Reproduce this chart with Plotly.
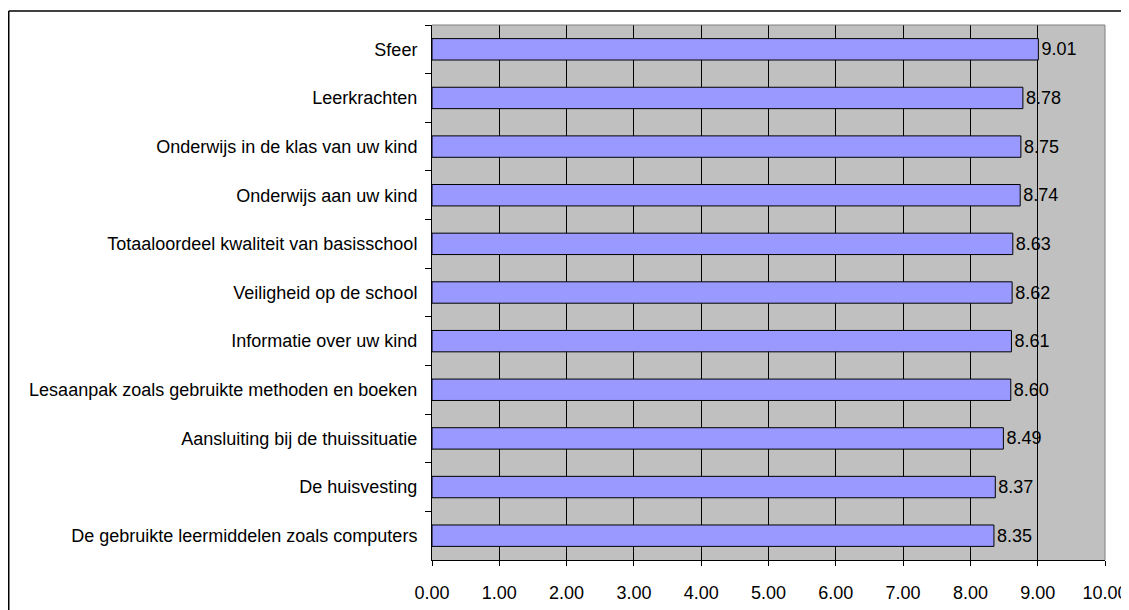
import plotly.graph_objects as go

categories = [
    "Sfeer",
    "Leerkrachten",
    "Onderwijs in de klas van uw kind",
    "Onderwijs aan uw kind",
    "Totaaloordeel kwaliteit van basisschool",
    "Veiligheid op de school",
    "Informatie over uw kind",
    "Lesaanpak zoals gebruikte methoden en boeken",
    "Aansluiting bij de thuissituatie",
    "De huisvesting",
    "De gebruikte leermiddelen zoals computers",
]
values = [9.01, 8.78, 8.75, 8.74, 8.63, 8.62, 8.61, 8.60, 8.49, 8.37, 8.35]
tick_vals = [0, 1, 2, 3, 4, 5, 6, 7, 8, 9, 10]
tick_text = ["%.2f" % v for v in tick_vals]

# page has an 8px body margin; figure coordinates are page coordinates - 8
OFF = 8
W, H = 1129 - OFF, 610 - OFF
L, R, T, B = 432 - OFF, W - (1105 - OFF), 25 - OFF, H - (560 - OFF)
pw, ph = W - L - R, H - T - B
FONT = "Liberation Sans, Arial"
FS = 18

fig = go.Figure(go.Bar(
    x=values, y=categories, orientation="h",
    marker=dict(color="#9999FF", line=dict(color="#000000", width=1)),
    width=0.44,
    text=["%.2f" % v for v in values], textposition="outside",
    textfont=dict(family=FONT, size=FS, color="#000000"),
    cliponaxis=False,
))

top_y = 1 + (T - (11 - OFF)) / ph
left_x = (0.75 - L) / pw

fig.update_layout(
    width=W, height=H,
    margin=dict(l=L, r=R, t=T, b=B, pad=0, autoexpand=False),
    paper_bgcolor="white", plot_bgcolor="#C0C0C0",
    showlegend=False,
    font=dict(family=FONT, size=FS, color="#000000"),
    bargap=0.56,
    xaxis=dict(range=[0, 10], tickvals=tick_vals, ticktext=tick_text,
               showgrid=True, gridcolor="#000000", gridwidth=1,
               showline=True, linecolor="#000000", linewidth=1,
               ticks="outside", ticklen=5, tickcolor="#000000",
               ticklabelstandoff=11, automargin=False,
               zeroline=False, fixedrange=True),
    yaxis=dict(autorange="reversed", showgrid=False, zeroline=False,
               showline=True, linecolor="#000000", linewidth=1,
               ticks="outside", ticklen=6, tickcolor="#000000",
               tickson="boundaries", ticklabelstandoff=10,
               automargin=False),
    shapes=[
        dict(type="line", xref="paper", yref="paper",
             x0=left_x, x1=(W + 10 - L) / pw,
             y0=top_y, y1=top_y,
             line=dict(color="#000000", width=1.5)),
        dict(type="line", xref="paper", yref="paper",
             x0=left_x, x1=left_x,
             y0=top_y, y1=-(B + 10) / ph,
             line=dict(color="#000000", width=1.5)),
        dict(type="line", xref="paper", yref="paper",
             x0=1, x1=1, y0=0, y1=1,
             line=dict(color="#808080", width=1)),
        dict(type="line", xref="paper", yref="paper",
             x0=0, x1=1, y0=1, y1=1,
             line=dict(color="#808080", width=1)),
    ],
)

fig.write_html("out.html")
